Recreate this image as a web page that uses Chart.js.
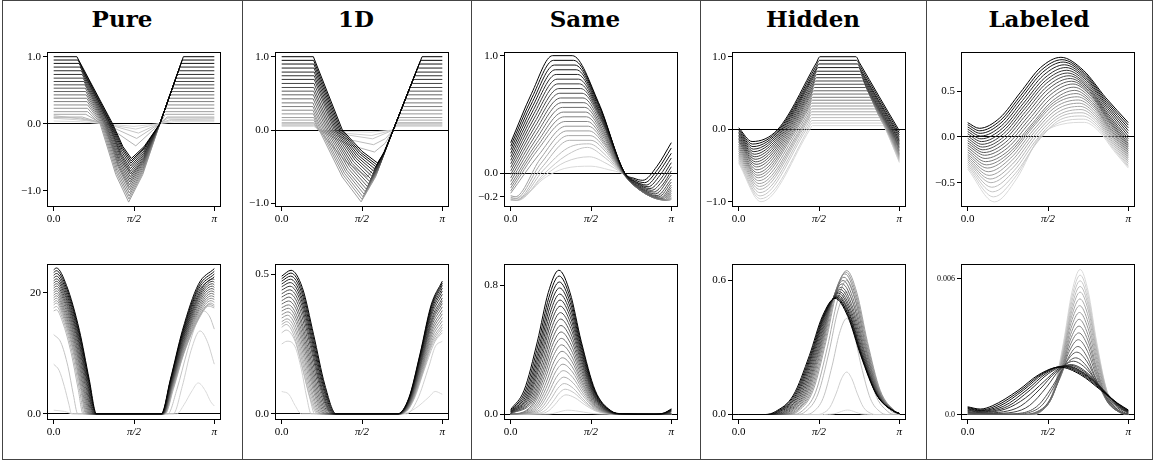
<!DOCTYPE html>
<html>
<head>
<meta charset="utf-8">
<script src="https://cdn.jsdelivr.net/npm/chart.js@4.4.0/dist/chart.umd.min.js"></script>
<style>
  html, body { margin: 0; padding: 0; background: #fff; }
  #fig { position: relative; width: 1154px; height: 461px; overflow: hidden; }
  .frame { position: absolute; left: 2px; top: 0; width: 1149px; height: 458px; border: 1px solid #444; }
  .divider { position: absolute; top: 0; width: 1px; height: 460px; background: #444; }
  .title { position: absolute; top: 5px; width: 220px; text-align: center; font: bold 23px "DejaVu Serif", serif; color: #000; line-height: 28px; }
  canvas { position: absolute; }
</style>
</head>
<body>
<div id="fig">
  <div class="frame"></div>
  <div class="divider" style="left:242px"></div>
  <div class="divider" style="left:471px"></div>
  <div class="divider" style="left:700px"></div>
  <div class="divider" style="left:926px"></div>
</div>
<script>
// x axis is in degrees, 0..180 == 0..pi
const xTicks = [0, 90, 180];
const xTickLabels = ['0.0', 'π/2', 'π'];
const titles = ['Pure', '1D', 'Same', 'Hidden', 'Labeled'];

// every curve list runs from light (early) to dark (late)

// ---- top row ----
const pureTopTicks = [-1, 0, 1];
const pureTopLabels = ['−1.0', '0.0', '1.0'];
const pureTopCurves = [
  [[0,0.04],[30,0.03],[55,0],[90,-0.04],[118,0],[135,0.03],[180,0.03]],
  [[0,0.08],[25,0.06],[40,0.04],[56,0],[92,-0.08],[118,0],[132,0.05],[180,0.05]],
  [[0,0.12],[20,0.09],[35,0.06],[58,0],[95,-0.14],[118,0],[130,0.06],[180,0.07]],
  [[0,0.09],[30,0.085],[57,0],[93,-0.22],[118.5,0],[128,0.085],[180,0.085]],
  [[0,0.1],[32,0.1],[56,0],[92,-0.33],[119,0],[127,0.1],[180,0.1]],
  [[0,0.14],[36,0.14],[54,0],[72,-0.5],[88,-0.75],[104,-0.5],[119,0],[125,0.14],[180,0.14]],
  [[0,0.18],[38,0.18],[52,0],[69.6,-0.76],[84,-1.17],[99.8,-0.76],[119,0],[123.7,0.18],[180,0.18]],
  [[0,0.23],[38,0.23],[53,0],[70.2,-0.73],[84.3,-1.125],[99.9,-0.73],[119,0],[125,0.23],[180,0.23]],
  [[0,0.28],[38,0.28],[54,0],[70.8,-0.7],[84.5,-1.08],[100,-0.7],[119,0],[126.4,0.28],[180,0.28]],
  [[0,0.33],[37.5,0.33],[55,0],[71.4,-0.67],[84.8,-1.035],[100.2,-0.67],[119,0],[127.7,0.33],[180,0.33]],
  [[0,0.38],[37,0.38],[56,0],[72,-0.64],[85,-0.99],[100.3,-0.64],[119,0],[129,0.38],[180,0.38]],
  [[0,0.43],[36.5,0.43],[56.8,0],[72.3,-0.615],[85,-0.95],[100.3,-0.615],[119,0],[130.3,0.43],[180,0.43]],
  [[0,0.48],[36,0.48],[57.5,0],[72.6,-0.59],[85,-0.91],[100.3,-0.59],[119,0],[131.6,0.48],[180,0.48]],
  [[0,0.53],[35.5,0.53],[58.3,0],[73.1,-0.565],[85.3,-0.87],[100.5,-0.565],[119,0],[133,0.53],[180,0.53]],
  [[0,0.58],[35,0.58],[59,0],[73.6,-0.54],[85.5,-0.83],[100.6,-0.54],[119,0],[134.3,0.58],[180,0.58]],
  [[0,0.63],[34,0.63],[60,0],[74.2,-0.515],[85.8,-0.79],[100.8,-0.515],[119,0],[135.6,0.63],[180,0.63]],
  [[0,0.68],[33,0.68],[61,0],[74.8,-0.49],[86,-0.75],[100.9,-0.49],[119,0],[136.9,0.68],[180,0.68]],
  [[0,0.735],[32,0.735],[61.8,0],[75.1,-0.465],[86,-0.71],[100.9,-0.465],[119,0],[138.4,0.735],[180,0.735]],
  [[0,0.79],[31,0.79],[62.5,0],[75.4,-0.44],[86,-0.67],[100.9,-0.44],[119,0],[139.8,0.79],[180,0.79]],
  [[0,0.845],[29.8,0.845],[63.3,0],[75.9,-0.41],[86.3,-0.63],[101,-0.41],[119,0],[141.3,0.845],[180,0.845]],
  [[0,0.9],[28.5,0.9],[64,0],[76.4,-0.38],[86.5,-0.59],[101.1,-0.38],[119,0],[142.7,0.9],[180,0.9]],
  [[0,0.95],[27.3,0.95],[65,0],[77,-0.36],[86.8,-0.555],[101.3,-0.36],[119,0],[144,0.95],[180,0.95]],
  [[0,1],[26,1],[66,0],[77.5,-0.34],[87,-0.52],[101.4,-0.34],[119,0],[145.3,1],[180,1]]
];

const oneDTopTicks = [-1, 0, 1];
const oneDTopLabels = ['−1.0', '0.0', '1.0'];
const oneDTopCurves = [
  [[0,0.05],[36,0.05],[42,0],[70,-0.02],[100,-0.03],[125,0],[128,0.05],[180,0.05]],
  [[0,0.06],[36,0.06],[42,0],[72,-0.045],[101,-0.075],[125,0],[128.5,0.06],[180,0.06]],
  [[0,0.07],[36,0.07],[42,0],[75,-0.07],[102,-0.12],[125,0],[129,0.07],[180,0.07]],
  [[0,0.085],[36,0.085],[41.5,0],[75,-0.13],[103,-0.2],[116,-0.12],[125,0],[128.5,0.085],[180,0.085]],
  [[0,0.1],[36,0.1],[41,0],[75,-0.2],[104,-0.3],[116,-0.18],[125,0],[128,0.1],[180,0.1]],
  [[0,0.135],[36,0.135],[41.5,0],[71,-0.42],[96,-0.64],[110,-0.42],[125,0],[129.3,0.135],[180,0.135]],
  [[0,0.17],[36,0.17],[42,0],[67.9,-0.64],[89,-0.98],[105.2,-0.64],[125,0],[130.5,0.17],[180,0.17]],
  [[0,0.22],[35.5,0.22],[43.5,0],[69.1,-0.615],[90,-0.945],[105.8,-0.615],[125,0],[132.1,0.22],[180,0.22]],
  [[0,0.27],[35,0.27],[45,0],[70.3,-0.59],[91,-0.91],[106.3,-0.59],[125,0],[133.7,0.27],[180,0.27]],
  [[0,0.32],[35,0.32],[46.8,0],[71.8,-0.57],[92.3,-0.875],[107,-0.57],[125,0],[135.3,0.32],[180,0.32]],
  [[0,0.37],[35,0.37],[48.5,0],[73.2,-0.55],[93.5,-0.84],[107.7,-0.55],[125,0],[136.9,0.37],[180,0.37]],
  [[0,0.425],[35.3,0.425],[50.3,0],[74.7,-0.525],[94.8,-0.805],[108.4,-0.525],[125,0],[138.7,0.425],[180,0.425]],
  [[0,0.48],[35.5,0.48],[52,0],[76.2,-0.5],[96,-0.77],[109,-0.5],[125,0],[140.5,0.48],[180,0.48]],
  [[0,0.53],[35.8,0.53],[53.8,0],[77.6,-0.478],[97.3,-0.735],[109.7,-0.478],[125,0],[142.1,0.53],[180,0.53]],
  [[0,0.58],[36,0.58],[55.5,0],[78.9,-0.455],[98.5,-0.7],[110.4,-0.455],[125,0],[143.7,0.58],[180,0.58]],
  [[0,0.635],[36.3,0.635],[57.3,0],[80.5,-0.433],[99.8,-0.665],[111.1,-0.433],[125,0],[145.5,0.635],[180,0.635]],
  [[0,0.69],[36.5,0.69],[59,0],[82.1,-0.41],[101,-0.63],[111.8,-0.41],[125,0],[147.3,0.69],[180,0.69]],
  [[0,0.74],[36.5,0.74],[60.5,0],[83.3,-0.387],[102,-0.595],[112.4,-0.387],[125,0],[148.9,0.74],[180,0.74]],
  [[0,0.79],[36.5,0.79],[62,0],[84.5,-0.364],[103,-0.56],[112.9,-0.364],[125,0],[150.5,0.79],[180,0.79]],
  [[0,0.845],[36.3,0.845],[63.5,0],[85.9,-0.345],[104.3,-0.53],[113.6,-0.345],[125,0],[152.3,0.845],[180,0.845]],
  [[0,0.9],[36,0.9],[65,0],[87.3,-0.325],[105.5,-0.5],[114.3,-0.325],[125,0],[154,0.9],[180,0.9]],
  [[0,0.95],[35.8,0.95],[66.5,0],[88.7,-0.308],[106.5,-0.475],[114.9,-0.308],[125,0],[155.7,0.95],[180,0.95]],
  [[0,1],[35.5,1],[68,0],[90,-0.29],[107.5,-0.45],[115.4,-0.29],[125,0],[157.3,1],[180,1]]
];

const sameTopTicks = [-0.2, 0, 1];
const sameTopLabels = ['−0.2', '0.0', '1.0'];
const sameTopCurves = [
  [[0,-0.2],[10,-0.2],[40,-0.03],[60,0.04],[90,0.06],[110,0.03],[125,0],[155,-0.12],[180,-0.19]],
  [[0,-0.215],[9,-0.215],[39,-0.015],[61,0.095],[88,0.14],[108,0.08],[125,0],[153,-0.135],[180,-0.205]],
  [[0,-0.23],[8,-0.23],[38,0],[62,0.15],[86,0.22],[106,0.13],[125,0],[152,-0.15],[180,-0.22]],
  [[0,-0.225],[7,-0.23],[36.5,0.025],[64,0.215],[88,0.25],[107,0.15],[125,0],[151,-0.155],[179,-0.225],[180,-0.223]],
  [[0,-0.22],[6,-0.23],[35,0.05],[66,0.28],[90,0.28],[108,0.17],[125,0],[150,-0.16],[178,-0.23],[180,-0.22]],
  [[0,-0.205],[5.5,-0.215],[34,0.085],[64.5,0.32],[89,0.32],[107.5,0.195],[125.3,0],[150,-0.165],[177,-0.23],[180,-0.215]],
  [[0,-0.19],[5,-0.2],[33,0.12],[63,0.36],[88,0.36],[107,0.22],[125.5,0],[150,-0.17],[176,-0.23],[180,-0.21]],
  [[0,-0.17],[31.8,0.16],[62,0.4],[87,0.4],[106.5,0.24],[125.8,0],[150,-0.17],[175,-0.23],[180,-0.19]],
  [[0,-0.15],[30.5,0.2],[61,0.44],[86,0.44],[106,0.26],[126,0],[150,-0.17],[174,-0.23],[180,-0.17]],
  [[0,-0.125],[30,0.23],[60,0.48],[85,0.48],[105.5,0.285],[126,0],[149,-0.165],[172.5,-0.225],[180,-0.155]],
  [[0,-0.1],[29.5,0.26],[59,0.52],[84,0.52],[105,0.31],[126,0],[148,-0.16],[171,-0.22],[180,-0.14]],
  [[0,-0.07],[29,0.295],[58,0.56],[83,0.56],[104.5,0.335],[126.3,0],[147.5,-0.155],[169.5,-0.215],[180,-0.12]],
  [[0,-0.04],[28.5,0.33],[57,0.6],[82,0.6],[104,0.36],[126.5,0],[147,-0.15],[168,-0.21],[180,-0.1]],
  [[0,-0.01],[28,0.365],[56,0.64],[81,0.64],[103.8,0.385],[126.8,0],[146,-0.14],[166,-0.2],[180,-0.075]],
  [[0,0.02],[27.5,0.4],[55,0.68],[80,0.68],[103.5,0.41],[127,0],[145,-0.13],[164,-0.19],[180,-0.05]],
  [[0,0.05],[27,0.435],[54,0.72],[78.5,0.72],[102.8,0.435],[127,0],[144,-0.12],[162,-0.175],[180,-0.015]],
  [[0,0.08],[26.5,0.47],[53,0.76],[77,0.76],[102,0.46],[127,0],[143,-0.11],[160,-0.16],[170,-0.1],[180,0.02]],
  [[0,0.11],[26,0.505],[52,0.8],[76,0.8],[101.5,0.48],[127.3,0],[142.5,-0.1],[158,-0.145],[169,-0.075],[180,0.055]],
  [[0,0.14],[25.5,0.54],[51,0.84],[75,0.84],[101,0.5],[127.5,0],[142,-0.09],[156,-0.13],[168,-0.05],[180,0.09]],
  [[0,0.17],[25,0.575],[50,0.88],[73.5,0.88],[100.5,0.525],[127.8,0],[141,-0.08],[154,-0.115],[167,-0.02],[180,0.13]],
  [[0,0.2],[24.5,0.61],[49,0.92],[72,0.92],[100,0.55],[128,0],[140,-0.07],[152,-0.1],[166,0.01],[180,0.17]],
  [[0,0.23],[24,0.645],[48,0.96],[70.5,0.96],[99.3,0.575],[128,0],[139,-0.056],[150,-0.08],[165,0.035],[180,0.215]],
  [[0,0.26],[23.5,0.68],[47,1],[69,1],[98.5,0.6],[128,0],[138,-0.042],[148,-0.06],[164,0.06],[180,0.26]]
];

const hiddenTopTicks = [-1, 0, 1];
const hiddenTopLabels = ['−1.0', '0.0', '1.0'];
const hiddenTopCurves = [
  [[0,-0.47],[25,-1],[80,0],[82.5,0.05],[162,0.05],[164.5,0],[180,-0.46]],
  [[0,-0.45],[24.5,-0.96],[78,0],[80,0.05],[82.3,0.085],[160.7,0.085],[163.5,0.04],[164.8,0],[180,-0.445]],
  [[0,-0.43],[24,-0.92],[76,0],[78,0.04],[82,0.12],[159.3,0.12],[163.3,0.036],[165,0],[180,-0.43]],
  [[0,-0.405],[23.8,-0.875],[74,0],[77.8,0.08],[81.8,0.16],[157.7,0.16],[161.7,0.076],[165.3,0],[180,-0.415]],
  [[0,-0.38],[23.5,-0.83],[72,0],[77.5,0.116],[81.5,0.2],[156,0.2],[160,0.116],[165.5,0],[180,-0.4]],
  [[0,-0.355],[23.3,-0.79],[70.5,0],[77.8,0.155],[81.8,0.24],[154.4,0.24],[158.4,0.156],[165.8,0],[180,-0.385]],
  [[0,-0.33],[23,-0.75],[69,0],[78,0.194],[82,0.28],[152.7,0.28],[156.7,0.196],[166,0],[180,-0.37]],
  [[0,-0.305],[22.5,-0.71],[67,0],[78,0.235],[82,0.32],[151.4,0.32],[155.4,0.235],[166.5,0],[180,-0.355]],
  [[0,-0.28],[22,-0.67],[65,0],[78,0.275],[82,0.36],[150,0.36],[154,0.275],[167,0],[180,-0.34]],
  [[0,-0.255],[21.5,-0.635],[63.5,0],[78.5,0.315],[82.5,0.4],[148.5,0.4],[152.5,0.315],[167.5,0],[180,-0.32]],
  [[0,-0.23],[21,-0.6],[62,0],[79,0.356],[83,0.44],[147,0.44],[151,0.356],[168,0],[180,-0.3]],
  [[0,-0.205],[20.5,-0.56],[60.5,0],[79.5,0.4],[83.5,0.485],[145.4,0.485],[149.4,0.4],[168.5,0],[180,-0.28]],
  [[0,-0.18],[20,-0.52],[59,0],[80,0.445],[84,0.53],[143.8,0.53],[147.8,0.446],[169,0],[180,-0.26]],
  [[0,-0.16],[19.5,-0.485],[57.5,0],[80.8,0.49],[84.8,0.575],[142.2,0.575],[146.2,0.49],[169.5,0],[180,-0.24]],
  [[0,-0.14],[19,-0.45],[56,0],[81.5,0.536],[85.5,0.62],[140.5,0.62],[144.5,0.536],[170,0],[180,-0.22]],
  [[0,-0.12],[18.5,-0.415],[54.5,0],[82.3,0.58],[86.3,0.665],[139.1,0.665],[143.1,0.58],[170.8,0],[180,-0.2]],
  [[0,-0.1],[18,-0.38],[53,0],[83,0.626],[87,0.71],[137.7,0.71],[141.7,0.626],[171.5,0],[180,-0.18]],
  [[0,-0.08],[17.5,-0.345],[51.5,0],[83.5,0.67],[87.5,0.755],[136.6,0.755],[140.6,0.67],[172.5,0],[180,-0.16]],
  [[0,-0.06],[17,-0.31],[50,0],[84,0.716],[88,0.8],[135.5,0.8],[139.5,0.716],[173.5,0],[180,-0.14]],
  [[0,-0.04],[16.5,-0.275],[48.5,0],[85,0.766],[89,0.85],[134.3,0.85],[138.3,0.766],[174.8,0],[180,-0.11]],
  [[0,-0.02],[16,-0.24],[47,0],[86,0.816],[90,0.9],[133,0.9],[137,0.816],[176,0],[180,-0.08]],
  [[0,0],[15.5,-0.205],[45.5,0],[86.5,0.865],[90.5,0.95],[132.2,0.95],[136.2,0.866],[177.5,0],[180,-0.05]],
  [[0,0.02],[15,-0.17],[44,0],[87,0.915],[91,1],[131.4,1],[135.4,0.916],[179,0],[180,-0.02]]
];

const labeledTopTicks = [-0.5, 0, 0.5];
const labeledTopLabels = ['−0.5', '0.0', '0.5'];
const labeledTopCurves = [
  [[0,-0.35],[30,-0.71],[55.3,-0.45],[80.5,0],[105.8,0.14],[131,0.16],[147.3,0.06],[163.7,-0.15],[180,-0.34]],
  [[0,-0.33],[29,-0.655],[54.3,-0.425],[79.5,-0.025],[104.8,0.165],[130,0.195],[146.7,0.091],[163.4,-0.128],[180,-0.325]],
  [[0,-0.31],[28,-0.6],[53.3,-0.4],[78.5,-0.05],[103.8,0.19],[129,0.23],[146,0.122],[163,-0.105],[180,-0.31]],
  [[0,-0.29],[27,-0.55],[52.3,-0.365],[77.5,-0.025],[102.8,0.215],[128,0.265],[145.4,0.154],[162.7,-0.079],[180,-0.29]],
  [[0,-0.27],[26,-0.5],[51.3,-0.33],[76.5,0],[101.8,0.24],[127,0.3],[144.7,0.186],[162.3,-0.053],[180,-0.27]],
  [[0,-0.25],[25,-0.46],[50.3,-0.295],[75.5,0.025],[100.8,0.27],[126,0.335],[144,0.218],[162,-0.027],[180,-0.25]],
  [[0,-0.23],[24,-0.42],[49.3,-0.26],[74.5,0.05],[99.8,0.3],[125,0.37],[143.3,0.25],[161.7,0],[180,-0.23]],
  [[0,-0.21],[23,-0.38],[48.3,-0.23],[73.5,0.075],[98.8,0.33],[124,0.405],[142.7,0.282],[161.3,0.025],[180,-0.21]],
  [[0,-0.19],[22,-0.34],[47.3,-0.2],[72.5,0.1],[97.8,0.36],[123,0.44],[142,0.314],[161,0.05],[180,-0.19]],
  [[0,-0.165],[21,-0.305],[46.2,-0.178],[71.3,0.11],[96.4,0.378],[121.5,0.475],[141,0.346],[160.5,0.075],[180,-0.17]],
  [[0,-0.14],[20,-0.27],[45,-0.156],[70,0.12],[95,0.396],[120,0.51],[140,0.378],[160,0.1],[180,-0.15]],
  [[0,-0.115],[19.5,-0.235],[44.4,-0.121],[69.3,0.155],[94.2,0.431],[119,0.545],[139.4,0.41],[159.7,0.126],[180,-0.13]],
  [[0,-0.09],[19,-0.2],[43.8,-0.086],[68.5,0.19],[93.3,0.466],[118,0.58],[138.7,0.442],[159.3,0.152],[180,-0.11]],
  [[0,-0.065],[18,-0.17],[42.7,-0.056],[67.3,0.22],[91.9,0.496],[116.5,0.61],[137.7,0.47],[158.8,0.176],[180,-0.09]],
  [[0,-0.04],[17,-0.14],[41.5,-0.026],[66,0.25],[90.5,0.526],[115,0.64],[136.7,0.498],[158.3,0.2],[180,-0.07]],
  [[0,-0.015],[16.5,-0.11],[40.8,0.004],[65,0.28],[89.3,0.556],[113.5,0.67],[135.7,0.527],[157.8,0.227],[180,-0.045]],
  [[0,0.01],[16,-0.08],[40,0.034],[64,0.31],[88,0.586],[112,0.7],[134.7,0.556],[157.3,0.254],[180,-0.02]],
  [[0,0.035],[15.5,-0.05],[39.4,0.064],[63.3,0.34],[87.2,0.616],[111,0.73],[134,0.586],[157,0.284],[180,0.01]],
  [[0,0.06],[15,-0.02],[38.8,0.094],[62.5,0.37],[86.3,0.646],[110,0.76],[133.3,0.616],[156.7,0.314],[180,0.04]],
  [[0,0.085],[14.5,0.01],[38,0.124],[61.5,0.4],[85,0.676],[108.5,0.79],[132.3,0.646],[156.2,0.344],[180,0.07]],
  [[0,0.11],[14,0.04],[37.3,0.154],[60.5,0.43],[83.8,0.706],[107,0.82],[131.3,0.676],[155.7,0.374],[180,0.1]],
  [[0,0.135],[13.5,0.068],[36.6,0.181],[59.7,0.457],[82.7,0.733],[105.8,0.846],[130.5,0.703],[155.2,0.402],[180,0.13]],
  [[0,0.157],[13,0.095],[35.9,0.208],[58.8,0.484],[81.6,0.759],[104.5,0.872],[129.7,0.729],[154.8,0.429],[180,0.157]]
];

// ---- bottom row ----
const pureBottomTicks = [0, 20];
const pureBottomLabels = ['0.0', '20'];
const pureBottomCurves = [
  [[0,0.6],[12,0.4],[22,0],[138,0],[146,1.5],[155,3.8],[162,5.1],[170,3.8],[176,2],[180,1.3]],
  [[0,8.2],[6,7.2],[12,4.5],[17,1.6],[20,0],[134,0],[144,4.5],[154,10.5],[164,13.7],[172,12],[180,8.2]],
  [[0,13.1],[8,11.8],[16,7.8],[22,3.2],[27,0],[128,0],[138,4],[150,10.5],[160,15],[168,17],[175,16],[180,14]],
  [[0,17],[3,17.2],[9.9,15.2],[19.8,9.9],[27.4,4.1],[33,0],[125,0],[134,4],[146,10],[162,15.5],[174,17.8],[180,17.5]],
  [[0,17.5],[3,17.75],[10.4,15.6],[20.7,10.15],[28.7,4.2],[34.5,0],[124.5,0],[133.8,4.15],[146.2,10.2],[162.6,15.85],[175,18.05],[180,17.75]],
  [[0,18],[3,18.3],[10.8,16],[21.6,10.4],[29.9,4.3],[36,0],[124,0],[133.5,4.3],[146.4,10.4],[163.2,16.2],[176,18.3],[180,18]],
  [[0,18.4],[3,18.7],[11.1,16.35],[22.2,10.65],[30.7,4.4],[37,0],[123.8,0],[133.3,4.4],[146.3,10.65],[163.2,16.55],[176.3,18.7],[180,18.45]],
  [[0,18.8],[3,19.1],[11.4,16.7],[22.8,10.9],[31.5,4.5],[38,0],[123.5,0],[133.1,4.5],[146.1,10.9],[163.1,16.9],[176.5,19.1],[180,18.9]],
  [[0,19.2],[3,19.5],[11.7,17.05],[23.4,11.15],[32.4,4.6],[39,0],[123.3,0],[132.9,4.6],[146,11.15],[163,17.25],[176.8,19.5],[180,19.3]],
  [[0,19.6],[3,19.9],[12,17.4],[24,11.4],[33.2,4.7],[40,0],[123,0],[132.7,4.7],[145.8,11.4],[162.9,17.6],[177,19.9],[180,19.7]],
  [[0,20],[3,20.3],[12.3,17.8],[24.6,11.6],[34,4.8],[41,0],[122.8,0],[132.5,4.8],[145.7,11.6],[162.9,18],[177.3,20.3],[180,20.1]],
  [[0,20.4],[3,20.7],[12.6,18.2],[25.2,11.8],[34.9,4.9],[42,0],[122.5,0],[132.3,4.9],[145.5,11.8],[162.8,18.4],[177.5,20.7],[180,20.5]],
  [[0,20.8],[3,21.1],[12.9,18.55],[25.8,12.05],[35.7,5],[43,0],[122.3,0],[132.1,5],[145.4,12.05],[162.7,18.75],[177.8,21.1],[180,20.9]],
  [[0,21.2],[3,21.5],[13.2,18.9],[26.4,12.3],[36.5,5.1],[44,0],[122,0],[131.9,5.1],[145.2,12.3],[162.6,19.1],[178,21.5],[180,21.3]],
  [[0,21.6],[3,21.9],[13.5,19.25],[26.9,12.55],[37.2,5.2],[44.8,0],[121.8,0],[131.7,5.2],[145.1,12.55],[162.6,19.45],[178.3,21.9],[180,21.75]],
  [[0,22],[3,22.3],[13.7,19.6],[27.3,12.8],[37.8,5.3],[45.5,0],[121.5,0],[131.4,5.3],[144.9,12.8],[162.5,19.8],[178.5,22.3],[180,22.2]],
  [[0,22.45],[3,22.75],[13.9,20],[27.8,13.05],[38.4,5.4],[46.3,0],[121.3,0],[131.2,5.4],[144.8,13.05],[162.4,20.2],[180,22.65]],
  [[0,22.9],[3,23.2],[14.1,20.4],[28.2,13.3],[39,5.5],[47,0],[121,0],[131,5.5],[144.6,13.3],[162.3,20.6],[180,23.1]],
  [[0,23.35],[3,23.65],[14.3,20.8],[28.5,13.55],[39.4,5.6],[47.5,0],[120.8,0],[130.9,5.6],[144.5,13.55],[162.3,21],[180,23.55]],
  [[0,23.8],[3,24.1],[14.4,21.2],[28.8,13.8],[39.8,5.7],[48,0],[120.5,0],[130.8,5.7],[144.3,13.8],[162.2,21.4],[180,24]]
];

const oneDBottomTicks = [0, 0.5];
const oneDBottomLabels = ['0.0', '0.5'];
const oneDBottomCurves = [
  [[0,0.08],[8,0.07],[15,0.03],[22,0],[136,0],[150,0.02],[165,0.06],[172,0.08],[180,0.07]],
  [[0,0.25],[6,0.26],[15,0.24],[22,0.16],[28,0.06],[33,0],[140,0],[152,0.05],[165,0.17],[172,0.24],[180,0.26]],
  [[0,0.29],[5,0.3],[15,0.26],[25,0.14],[32,0.05],[37,0],[136,0],[148,0.05],[160,0.16],[172,0.26],[180,0.29]],
  [[0,0.31],[5,0.32],[13.8,0.28],[22.5,0.176],[31.3,0.064],[40,0],[134,0],[145.5,0.036],[157,0.135],[168.5,0.246],[180,0.3]],
  [[0,0.32],[5.5,0.33],[14.5,0.29],[23.5,0.182],[32.5,0.066],[41.5,0],[133.8,0],[145.3,0.037],[156.9,0.14],[168.5,0.254],[180,0.31]],
  [[0,0.33],[6,0.34],[15.3,0.3],[24.5,0.187],[33.8,0.068],[43,0],[133.5,0],[145.1,0.038],[156.8,0.144],[168.4,0.262],[180,0.32]],
  [[0,0.343],[6.5,0.353],[16,0.31],[25.5,0.194],[35,0.07],[44.5,0],[133.3,0],[145,0.04],[156.6,0.15],[168.3,0.272],[180,0.333]],
  [[0,0.355],[7,0.365],[16.8,0.321],[26.5,0.2],[36.3,0.073],[46,0],[133,0],[144.8,0.041],[156.5,0.155],[168.3,0.283],[180,0.345]],
  [[0,0.368],[7.3,0.378],[17.3,0.332],[27.4,0.208],[37.4,0.076],[47.5,0],[132.8,0],[144.6,0.043],[156.4,0.161],[168.2,0.293],[180,0.358]],
  [[0,0.38],[7.5,0.39],[17.9,0.343],[28.3,0.215],[38.6,0.078],[49,0],[132.5,0],[144.4,0.044],[156.3,0.167],[168.1,0.303],[180,0.37]],
  [[0,0.393],[7.8,0.404],[18.5,0.356],[29.1,0.223],[39.8,0.081],[50.5,0],[132.3,0],[144.2,0.046],[156.1,0.173],[168,0.314],[180,0.383]],
  [[0,0.405],[8,0.418],[19,0.368],[30,0.23],[41,0.084],[52,0],[132,0],[144,0.047],[156,0.178],[168,0.324],[180,0.395]],
  [[0,0.418],[8.5,0.431],[19.8,0.38],[31,0.237],[42.3,0.087],[53.5,0],[131.8,0],[143.8,0.049],[155.9,0.183],[168,0.332],[180,0.405]],
  [[0,0.43],[9,0.444],[20.5,0.391],[32,0.244],[43.5,0.089],[55,0],[131.5,0],[143.6,0.05],[155.8,0.187],[167.9,0.34],[180,0.415]],
  [[0,0.443],[9.3,0.457],[21,0.403],[32.6,0.252],[44.3,0.092],[56,0],[131.3,0],[143.4,0.052],[155.6,0.193],[167.8,0.351],[180,0.428]],
  [[0,0.455],[9.5,0.47],[21.4,0.414],[33.3,0.259],[45.1,0.094],[57,0],[131,0],[143.3,0.053],[155.5,0.198],[167.8,0.361],[180,0.44]],
  [[0,0.465],[9.8,0.482],[21.8,0.424],[33.9,0.265],[46,0.097],[58,0],[130.8,0],[143.1,0.054],[155.4,0.203],[167.7,0.369],[180,0.45]],
  [[0,0.475],[10,0.493],[22.3,0.434],[34.5,0.271],[46.8,0.099],[59,0],[130.5,0],[142.9,0.055],[155.3,0.207],[167.6,0.377],[180,0.46]],
  [[0,0.484],[10.3,0.504],[22.7,0.443],[35.2,0.277],[47.6,0.101],[60,0],[130.3,0],[142.7,0.056],[155.1,0.211],[167.6,0.384],[180,0.468]],
  [[0,0.493],[10.5,0.514],[23.1,0.452],[35.8,0.283],[48.4,0.103],[61,0],[130,0],[142.5,0.057],[155,0.214],[167.5,0.39],[180,0.475]]
];

const sameBottomTicks = [0, 0.8];
const sameBottomLabels = ['0.0', '0.8'];
const sameBottomCurves = [
  [[0,0],[39.7,0.001],[47,0.004],[53.5,0.013],[58.8,0.021],[64,0.025],[72.7,0.021],[81.5,0.013],[92.4,0.004],[104.5,0.001],[120,0],[180,0]],
  [[0,0],[33.6,0.003],[42.2,0.02],[49.8,0.061],[55.9,0.101],[62,0.12],[72.2,0.101],[82.4,0.061],[95.1,0.02],[109.3,0.003],[125,0],[180,0]],
  [[0,0],[30,0.004],[39.3,0.026],[47.6,0.079],[54.4,0.131],[61,0.155],[71.3,0.131],[81.6,0.079],[94.4,0.026],[108.7,0.004],[125,0],[180,0]],
  [[0,0],[26.3,0.005],[36.4,0.032],[45.4,0.096],[52.8,0.16],[60,0.19],[70.3,0.16],[80.7,0.096],[93.6,0.032],[108,0.005],[125,0],[180,0]],
  [[0,0],[24,0.006],[34.7,0.039],[44.2,0.117],[51.9,0.194],[59.5,0.23],[70,0.194],[80.5,0.117],[93.5,0.039],[108.1,0.006],[125,0],[180,0]],
  [[0,0],[21.7,0.007],[32.9,0.045],[42.9,0.137],[51,0.228],[59,0.27],[69.6,0.228],[80.2,0.137],[93.4,0.045],[108.1,0.007],[125,0],[180,0]],
  [[0,0],[19.9,0.008],[31.5,0.052],[41.9,0.157],[50.2,0.262],[58.5,0.31],[69.2,0.262],[80,0.157],[93.3,0.052],[108.2,0.008],[125,0],[180,0]],
  [[0,0],[18,0.009],[30,0.058],[40.8,0.177],[49.4,0.295],[58,0.35],[68.8,0.295],[79.7,0.177],[93.2,0.058],[108.2,0.009],[125,0],[180,0]],
  [[0,0],[16.3,0.01],[28.7,0.065],[39.8,0.198],[48.7,0.329],[57.5,0.39],[68.4,0.329],[79.4,0.198],[93.1,0.065],[108.3,0.01],[125,0],[180,0]],
  [[0,0],[14.6,0.011],[27.3,0.072],[38.7,0.218],[47.9,0.363],[57,0.43],[68,0.363],[79.1,0.218],[92.9,0.072],[108.3,0.011],[125,0],[180,0]],
  [[0,0.001],[13,0.011],[26.3,0.079],[38,0.239],[47.4,0.397],[56.8,0.47],[67.9,0.397],[79.1,0.239],[93,0.079],[108.6,0.012],[125,0],[180,0]],
  [[0,0.002],[25.3,0.085],[37.3,0.259],[46.9,0.43],[56.5,0.51],[67.8,0.43],[79.1,0.259],[93.2,0.085],[108.9,0.013],[125,0],[180,0]],
  [[0,0.0025],[24.4,0.092],[36.7,0.279],[46.5,0.464],[56.3,0.55],[67.7,0.464],[79.1,0.279],[93.3,0.092],[109.2,0.014],[125,0],[180,0]],
  [[0,0.003],[23.5,0.099],[36,0.299],[46,0.498],[56,0.59],[67.5,0.498],[79.1,0.299],[93.4,0.099],[109.5,0.015],[125,0],[180,0]],
  [[0,0.0045],[22.5,0.106],[35.3,0.32],[45.6,0.532],[55.8,0.63],[67.4,0.532],[79.1,0.32],[93.6,0.106],[109.8,0.016],[125,0.001],[168,0],[176,0.002],[180,0.007]],
  [[0,0.006],[21.5,0.112],[34.5,0.34],[45.1,0.565],[55.5,0.67],[67.2,0.565],[79,0.34],[93.7,0.112],[110,0.017],[125,0.002],[166,0],[175,0.004],[180,0.015]],
  [[0,0.008],[20.6,0.118],[33.9,0.359],[44.7,0.597],[55.3,0.708],[67.1,0.597],[79,0.359],[93.8,0.118],[110.3,0.018],[125,0.002],[165,0],[174.5,0.005],[180,0.018]],
  [[0,0.01],[19.7,0.124],[33.2,0.378],[44.2,0.629],[55,0.745],[66.9,0.629],[79,0.378],[93.9,0.124],[110.6,0.019],[125,0.002],[164,0],[174,0.006],[180,0.022]],
  [[0,0.013],[18.7,0.131],[32.5,0.397],[43.7,0.661],[54.8,0.783],[66.8,0.661],[79,0.397],[94.1,0.131],[110.9,0.02],[125,0.002],[163,0],[173.5,0.0065],[180,0.025]],
  [[0,0.016],[17.6,0.137],[31.8,0.416],[43.2,0.692],[54.5,0.82],[66.7,0.692],[79,0.416],[94.2,0.137],[111.2,0.021],[125,0.002],[162,0],[173,0.007],[180,0.028]],
  [[0,0.022],[16.4,0.143],[30.9,0.435],[42.7,0.723],[54.3,0.857],[66.6,0.723],[79,0.435],[94.4,0.143],[111.6,0.022],[125,0.0025],[161,0],[172.5,0.0075],[180,0.03]],
  [[0,0.029],[15.1,0.149],[30,0.453],[42.1,0.754],[54,0.893],[66.5,0.754],[79,0.453],[94.6,0.149],[112,0.023],[125,0.003],[160,0],[172,0.008],[180,0.033]]
];

const hiddenBottomTicks = [0, 0.6];
const hiddenBottomLabels = ['0.0', '0.6'];
const hiddenBottomCurves = [
  [[0,0],[95,0],[100.4,0.001],[106.9,0.003],[112.7,0.01],[117.4,0.017],[122,0.02],[126.6,0.017],[131.3,0.01],[137.1,0.003],[143.6,0.001],[150,0],[180,0]],
  [[0,0],[88,0],[94,0.005],[102.1,0.032],[109.4,0.096],[115.2,0.16],[121,0.19],[126.8,0.16],[132.7,0.096],[139.9,0.032],[148,0.005],[154,0],[180,0]],
  [[0,0],[75,0],[83.2,0.011],[94.5,0.072],[104.7,0.218],[112.9,0.363],[121,0.43],[129.1,0.363],[137.3,0.218],[147.5,0.072],[158.8,0.011],[166,0],[180,0]],
  [[0,0],[65,0],[75.1,0.014],[88.9,0.092],[101.2,0.279],[111.1,0.464],[121,0.55],[130.9,0.464],[140.8,0.279],[153.1,0.092],[166.9,0.014],[175,0],[180,0]],
  [[0,0],[61,0],[71.2,0.016],[86.2,0.1],[99.5,0.303],[110.3,0.504],[121,0.6],[131.7,0.504],[142.5,0.303],[155.9,0.1],[170.8,0.016],[180,0.002]],
  [[0,0],[57,0],[67.3,0.017],[83.4,0.108],[97.8,0.327],[109.5,0.544],[121,0.645],[132.5,0.544],[144.2,0.327],[158.6,0.108],[174.7,0.017],[180,0.004]],
  [[0,0],[55,0],[65.5,0.017],[81.9,0.107],[96.5,0.323],[108.3,0.538],[120,0.638],[131.7,0.538],[143.6,0.323],[158.2,0.107],[174.6,0.017],[180,0.004]],
  [[0,0],[53,0],[63.6,0.016],[80.3,0.105],[95.1,0.319],[107.1,0.532],[119,0.63],[130.9,0.532],[142.9,0.319],[157.7,0.105],[174.4,0.016],[180,0.004]],
  [[0,0],[51,0],[61.7,0.016],[78.6,0.103],[93.7,0.312],[105.9,0.519],[118,0.615],[130.1,0.519],[142.3,0.312],[157.4,0.103],[174.3,0.016],[180,0.004]],
  [[0,0],[49,0],[59.8,0.016],[76.9,0.1],[92.3,0.304],[104.7,0.506],[117,0.6],[129.3,0.506],[141.7,0.304],[157.1,0.1],[174.2,0.016],[180,0.004]],
  [[0,0],[47,0],[57.9,0.016],[75.3,0.098],[90.9,0.297],[103.5,0.494],[116,0.585],[128.5,0.494],[141.1,0.297],[156.8,0.098],[174.2,0.016],[180,0.004]],
  [[0,0],[45,0],[55.9,0.015],[73.6,0.095],[89.5,0.289],[102.3,0.481],[115,0.57],[127.7,0.481],[140.5,0.289],[156.4,0.095],[174.1,0.015],[180,0.004]],
  [[0,0],[43,0],[54,0.015],[72,0.094],[88.1,0.284],[101.1,0.473],[114,0.56],[126.9,0.473],[139.9,0.284],[156.1,0.094],[174.1,0.015],[180,0.004]],
  [[0,0],[41,0],[52,0.014],[70.3,0.092],[86.7,0.279],[99.9,0.464],[113,0.55],[126.1,0.464],[139.3,0.279],[155.7,0.092],[174,0.014],[180,0.004]],
  [[0,0],[39,0],[50.1,0.014],[68.7,0.091],[85.3,0.275],[98.7,0.458],[112,0.543],[125.3,0.458],[138.7,0.275],[155.4,0.091],[174,0.014],[180,0.004]],
  [[0,0],[37,0],[48.1,0.014],[67,0.089],[83.9,0.271],[97.5,0.452],[111,0.535],[124.5,0.452],[138.1,0.271],[155,0.089],[173.9,0.014],[180,0.004]],
  [[0,0],[35,0],[46.4,0.014],[65.6,0.089],[82.7,0.269],[96.6,0.448],[110.3,0.53],[124,0.448],[137.8,0.269],[155,0.089],[174.1,0.014],[180,0.005]],
  [[0,0],[33,0],[44.7,0.0137],[64.1,0.088],[81.5,0.266],[95.6,0.443],[109.5,0.525],[123.4,0.443],[137.5,0.266],[154.9,0.088],[174.3,0.0137],[180,0.005]],
  [[0,0],[31.5,0],[43,0.0136],[62.7,0.088],[80.4,0.265],[94.7,0.441],[108.8,0.523],[122.9,0.441],[137.2,0.265],[154.8,0.088],[174.5,0.0136],[180,0.005]],
  [[0,0],[30,0],[41.3,0.0135],[61.3,0.087],[79.2,0.264],[93.7,0.439],[108,0.52],[122.3,0.439],[136.8,0.264],[154.7,0.087],[174.7,0.0135],[180,0.005]]
];

const labeledBottomTicks = [0, 0.006];
const labeledBottomLabels = ['0.0', '0.006'];
const labeledBottomCurves = [
  [[0,0],[71,0],[83.3,0.00017],[96.1,0.00107],[107.6,0.00324],[116.8,0.0054],[126,0.0064],[135.2,0.0054],[144.4,0.00324],[155.9,0.00107],[168.7,0.00017],[180,0]],
  [[0,0],[70.5,0],[83,0.00016],[96,0.00103],[107.5,0.00312],[116.8,0.00519],[126,0.00615],[135.3,0.00519],[144.5,0.00312],[156,0.00103],[169,0.00016],[180,0]],
  [[0,0],[70,0],[82.8,0.00015],[95.8,0.00099],[107.4,0.00299],[116.7,0.00498],[126,0.0059],[135.3,0.00498],[144.6,0.00299],[156.2,0.00099],[169.2,0.00015],[180,0]],
  [[0,0],[70,0],[82.5,0.00015],[95.6,0.00095],[107.3,0.00287],[116.7,0.00477],[126,0.00565],[135.4,0.00477],[144.8,0.00287],[156.4,0.00095],[169.5,0.00015],[180,0]],
  [[0,0],[70,0],[82.3,0.00014],[95.4,0.0009],[107.1,0.00274],[116.6,0.00456],[126,0.0054],[135.4,0.00456],[144.9,0.00274],[156.6,0.0009],[169.7,0.00014],[180,0]],
  [[0,0],[69,0],[81.6,0.00013],[94.9,0.00085],[106.7,0.00259],[116.3,0.00431],[125.8,0.0051],[135.3,0.00431],[144.8,0.00259],[156.7,0.00085],[169.9,0.00013],[180,0]],
  [[0,0],[68,0],[80.9,0.00012],[94.3,0.0008],[106.3,0.00243],[115.9,0.00405],[125.5,0.0048],[135.1,0.00405],[144.7,0.00243],[156.7,0.0008],[170.1,0.00012],[180,0]],
  [[0,0],[67.5,0],[80.7,0.00012],[94.1,0.00075],[106.1,0.00228],[115.7,0.0038],[125.3,0.0045],[134.9,0.0038],[144.5,0.00228],[156.5,0.00075],[169.9,0.00012],[180,0]],
  [[0,0],[67,0],[80.4,0.00011],[93.8,0.0007],[105.8,0.00213],[115.4,0.00354],[125,0.0042],[134.6,0.00354],[144.2,0.00213],[156.2,0.0007],[169.6,0.00011],[180,0]],
  [[0,0],[66,0],[79.5,0.0001],[93.1,0.00065],[105.3,0.00198],[115,0.00329],[124.8,0.0039],[134.5,0.00329],[144.3,0.00198],[156.4,0.00065],[170,0.0001],[180,0]],
  [[0,0],[65,0],[78.6,0.00009],[92.4,0.0006],[104.7,0.00183],[114.6,0.00304],[124.5,0.0036],[134.4,0.00304],[144.3,0.00183],[156.6,0.0006],[170.4,0.00009],[180,0]],
  [[0,0],[62.5,0],[76.8,0.00009],[91,0.00055],[103.6,0.00168],[113.9,0.00279],[124,0.0033],[134.2,0.00279],[144.4,0.00168],[157,0.00055],[171.3,0.00009],[180,0]],
  [[0,0],[60,0],[74.9,0.00008],[89.5,0.0005],[102.5,0.00152],[113.1,0.00253],[123.5,0.003],[133.9,0.00253],[144.5,0.00152],[157.5,0.0005],[172.1,0.00008],[180,0]],
  [[0,0.00002],[50,0.00001],[68.3,0.00008],[84.5,0.00046],[99,0.0014],[110.7,0.00232],[122.3,0.00275],[133.9,0.00232],[145.6,0.0014],[160.1,0.00046],[173.6,0.00007],[180,0]],
  [[0,0.00005],[40,0.00002],[61.6,0.00007],[79.4,0.00042],[95.4,0.00127],[108.2,0.00211],[121,0.0025],[133.8,0.00211],[146.6,0.00127],[162.6,0.00042],[175,0.00005],[180,0]],
  [[0,0.00009],[29,0.00005],[50.8,0.0001],[69.4,0.0004],[88.2,0.0012],[103.4,0.00199],[118.5,0.00235],[133.6,0.00199],[148.8,0.0012],[165.3,0.00039],[177.5,0.00005],[180,0.00003]],
  [[0,0.00013],[18,0.00007],[40,0.00012],[59.3,0.00037],[81,0.00112],[98.6,0.00186],[116,0.0022],[133.4,0.00186],[151,0.00112],[168,0.00035],[180,0.00005]],
  [[0,0.00017],[17,0.0001],[42.4,0.00024],[64.8,0.00073],[85.9,0.00147],[101.2,0.002],[113.5,0.00218],[132.4,0.00184],[151.4,0.0011],[169,0.00035],[180,0.00008]],
  [[0,0.0002],[16,0.00012],[44.8,0.00036],[70.2,0.00109],[90.7,0.00181],[111,0.00215],[131.3,0.00181],[151.8,0.00109],[170,0.00035],[180,0.0001]],
  [[0,0.00024],[15.5,0.00015],[40,0.00036],[66.5,0.00109],[87.9,0.00181],[109,0.00214],[130.2,0.00181],[151.6,0.00109],[170,0.00038],[180,0.00013]],
  [[0,0.00027],[15,0.00017],[35.2,0.00036],[62.7,0.00108],[85,0.0018],[107,0.00213],[129,0.0018],[151.3,0.00108],[170,0.0004],[180,0.00015]],
  [[0,0.00031],[14.5,0.0002],[31.3,0.00037],[59.6,0.00107],[82.4,0.00178],[105,0.00211],[127.6,0.00178],[150.5,0.00107],[169,0.00045],[180,0.00018]],
  [[0,0.00034],[14,0.00024],[27.4,0.00038],[56.4,0.00106],[79.8,0.00176],[103,0.00209],[126.2,0.00176],[149.6,0.00106],[168,0.0005],[180,0.0002]]
];

// layout of each plot box (pixels) and its y range
var panels = [
  { curves: pureTopCurves, ticks: pureTopTicks, labels: pureTopLabels, left: 47, top: 52, h: 155, yMin: -1.243, yMax: 1.07, straight: true },
  { curves: oneDTopCurves, ticks: oneDTopTicks, labels: oneDTopLabels, left: 275, top: 52, h: 155, yMin: -1.05, yMax: 1.064, straight: true },
  { curves: sameTopCurves, ticks: sameTopTicks, labels: sameTopLabels, left: 504, top: 52, h: 155, yMin: -0.287, yMax: 1.031 },
  { curves: hiddenTopCurves, ticks: hiddenTopTicks, labels: hiddenTopLabels, left: 732, top: 52, h: 155, yMin: -1.073, yMax: 1.065 },
  { curves: labeledTopCurves, ticks: labeledTopTicks, labels: labeledTopLabels, left: 961, top: 52, h: 155, yMin: -0.766, yMax: 0.93 },
  { curves: pureBottomCurves, ticks: pureBottomTicks, labels: pureBottomLabels, left: 47, top: 264, h: 156, yMin: -1.02, yMax: 24.76 },
  { curves: oneDBottomCurves, ticks: oneDBottomTicks, labels: oneDBottomLabels, left: 275, top: 264, h: 156, yMin: -0.0222, yMax: 0.5365 },
  { curves: sameBottomCurves, ticks: sameBottomTicks, labels: sameBottomLabels, left: 504, top: 264, h: 156, yMin: -0.036, yMax: 0.9315 },
  { curves: hiddenBottomCurves, ticks: hiddenBottomTicks, labels: hiddenBottomLabels, left: 732, top: 264, h: 156, yMin: -0.0246, yMax: 0.674 },
  { curves: labeledBottomCurves, ticks: labeledBottomTicks, labels: labeledBottomLabels, left: 961, top: 264, h: 156, yMin: -0.000243, yMax: 0.00664, smallLabels: true }
];
var titleCenters = [122, 356, 585, 813, 1039];
var boxWidth = 174;

var fig = document.getElementById('fig');

titles.forEach(function(t, i) {
  var d = document.createElement('div');
  d.className = 'title';
  d.style.left = (titleCenters[i] - 110) + 'px';
  d.textContent = t;
  fig.appendChild(d);
});

// light grey for the first curve down to black for the last
function shade(k, n) {
  var v = Math.round(218 * (1 - k / (n - 1)));
  return 'rgb(' + v + ',' + v + ',' + v + ')';
}

// frame around the plot area
var boxPlugin = {
  id: 'box',
  afterDraw: function(chart) {
    var a = chart.chartArea;
    var ctx = chart.ctx;
    ctx.save();
    ctx.strokeStyle = '#000';
    ctx.lineWidth = 1;
    ctx.strokeRect(Math.round(a.left) + 0.5, Math.round(a.top) + 0.5,
                   Math.round(a.right - a.left) - 1, Math.round(a.bottom - a.top) - 1);
    ctx.restore();
  }
};

var fontFamily = '"Liberation Serif", serif';

panels.forEach(function(p) {
  var canvas = document.createElement('canvas');
  canvas.width = boxWidth + 50;
  canvas.height = p.h + 40;
  canvas.style.left = (p.left - 40) + 'px';
  canvas.style.top = (p.top - 10) + 'px';
  fig.appendChild(canvas);

  var n = p.curves.length;
  var datasets = p.curves.map(function(pts, k) {
    return {
      data: pts.map(function(pt) { return { x: pt[0], y: pt[1] }; }),
      borderColor: shade(k, n),
      borderWidth: 1,
      pointRadius: 0,
      fill: false,
      tension: 0,
      cubicInterpolationMode: p.straight ? 'default' : 'monotone',
      order: n - k
    };
  });

  new Chart(canvas, {
    type: 'line',
    data: { datasets: datasets },
    plugins: [boxPlugin],
    options: {
      responsive: false,
      animation: false,
      devicePixelRatio: 1,
      events: [],
      layout: { padding: { top: 10, right: 10, left: 0, bottom: 0 } },
      plugins: { legend: { display: false }, tooltip: { enabled: false } },
      scales: {
        x: {
          type: 'linear',
          min: -7.5,
          max: 187.5,
          afterBuildTicks: function(axis) {
            axis.ticks = xTicks.map(function(v) { return { value: v }; });
          },
          afterFit: function(axis) { axis.height = 30; },
          ticks: {
            autoSkip: false,
            maxRotation: 0,
            padding: 2,
            color: '#000',
            font: function(ctx) {
              return { family: fontFamily, size: 11, style: ctx.index > 0 ? 'italic' : 'normal' };
            },
            callback: function(v, i) { return xTickLabels[i]; }
          },
          grid: { drawOnChartArea: false, drawTicks: true, tickLength: 4, tickColor: '#000' },
          border: { display: false }
        },
        y: {
          type: 'linear',
          min: p.yMin,
          max: p.yMax,
          afterBuildTicks: function(axis) {
            axis.ticks = p.ticks.map(function(v) { return { value: v }; });
          },
          afterFit: function(axis) { axis.width = 40; },
          ticks: {
            autoSkip: false,
            padding: 2,
            color: '#000',
            font: { family: fontFamily, size: p.smallLabels ? 8 : 11 },
            callback: function(v, i) { return p.labels[i]; }
          },
          grid: {
            color: function(ctx) {
              return ctx.tick && ctx.tick.value === 0 ? '#000' : 'rgba(0,0,0,0)';
            },
            lineWidth: 1,
            drawTicks: true,
            tickLength: 4,
            tickColor: '#000'
          },
          border: { display: false }
        }
      }
    }
  });
});
</script>
</body>
</html>
